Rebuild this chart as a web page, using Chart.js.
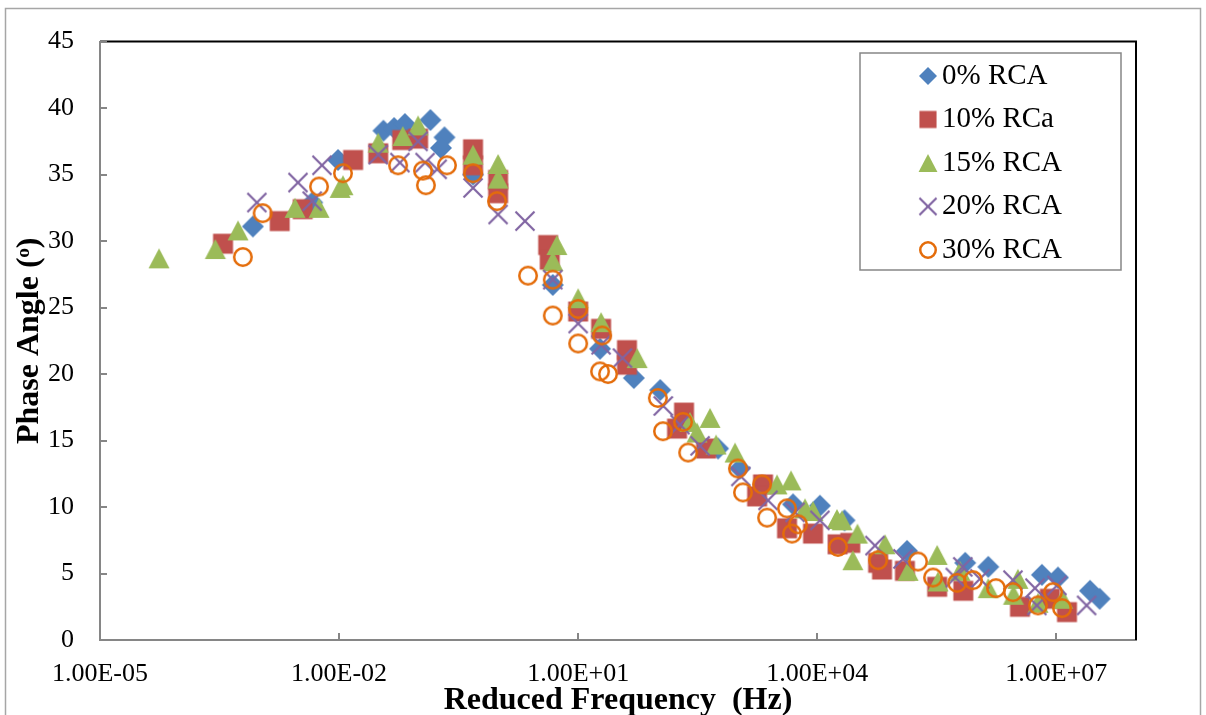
<!DOCTYPE html>
<html>
<head>
<meta charset="utf-8">
<title>Phase Angle vs Reduced Frequency</title>
<script src="https://cdn.jsdelivr.net/npm/chart.js@4/dist/chart.umd.min.js"></script>
<style>
  html, body { margin: 0; padding: 0; background: #ffffff; }
  #wrap { width: 1206px; height: 715px; }
</style>
</head>
<body>
<div id="wrap"><canvas id="c" width="1206" height="715"></canvas></div>
<script>
// Master-curve phase angles (degrees) against reduced frequency (Hz)
const labels = ['0% RCA', '10% RCa', '15% RCA', '20% RCA', '30% RCA'];

const freq0  = [8.3e-4, 4.6e-3, 9.7e-3, 3.6e-2, 4.9e-2, 6.7e-2, 1.4e-1, 2.1e-1, 1.9e-1, 4.8e-1,
                4.8, 18.8, 50, 107, 570, 1070, 4970, 1.08e4, 2.2e4, 1.34e5,
                7.2e5, 1.4e6, 6.6e6, 1.05e7, 2.65e7, 3.5e7];
const phase0 = [31.1, 32.9, 36.1, 38.3, 38.5, 38.8, 39.1, 37.8, 37.0, 35.0,
                26.7, 21.9, 19.7, 18.8, 14.4, 12.9, 10.2, 10.1, 9.0, 6.7,
                5.8, 5.5, 4.9, 4.7, 3.7, 3.1];

const freq10  = [3.5e-4, 1.8e-3, 3.5e-3, 1.5e-2, 3.1e-2, 6.2e-2, 9.8e-2, 4.8e-1, 4.8e-1, 0.99,
                 0.99, 4.2, 4.4, 10, 19.4, 41, 41, 213, 174, 403,
                 2090, 1760, 4180, 8860, 1.8e4, 2.6e4, 5.8e4, 6.5e4, 1.26e5, 3.2e5,
                 6.8e5, 3.5e6, 8.3e6, 1.36e7];
const phase10 = [29.8, 31.5, 32.4, 36.1, 36.6, 37.6, 37.7, 36.9, 35.7, 34.6,
                 33.6, 29.7, 28.6, 24.7, 23.4, 21.8, 20.7, 17.1, 15.9, 14.4,
                 11.7, 10.8, 8.4, 8.0, 7.2, 7.3, 5.8, 5.3, 5.2, 4.0,
                 3.7, 2.5, 3.1, 2.1];

const freq15  = [5.5e-5, 2.8e-4, 5.4e-4, 2.8e-3, 5.6e-3, 1.03e-2, 1.12e-2, 3.1e-2, 6.3e-2, 9.8e-2,
                 4.8e-1, 0.99, 0.99, 5.4, 4.8, 10, 19.4, 55, 253, 452,
                 310, 538, 930, 3130, 4690, 7030, 8860, 1.77e4, 2.05e4, 3.2e4,
                 2.8e4, 7.1e4, 1.38e5, 3.2e5, 3.28e5, 6.2e5, 1.4e6, 3.3e6, 2.9e6, 5.9e6,
                 1.2e7];
const phase15 = [28.7, 29.4, 30.8, 32.5, 32.5, 34.0, 34.2, 37.4, 37.9, 38.7,
                 36.5, 35.8, 34.7, 29.7, 28.5, 25.7, 23.9, 21.2, 16.4, 16.7,
                 15.6, 14.7, 14.1, 11.7, 12.0, 9.9, 9.7, 9.1, 9.0, 8.0,
                 6.0, 7.2, 5.2, 6.4, 4.4, 5.2, 3.9, 4.6, 3.4, 2.8,
                 3.1];

const freq20  = [9.3e-4, 3.05e-3, 6.1e-3, 4.6e-3, 3.1e-2, 5.8e-2, 9.8e-2, 1.2e-1, 1.7e-1, 4.8e-1,
                 0.99, 2.15, 4.8, 10, 19.4, 36, 117, 190, 339, 1100,
                 2410, 5270, 1.08e4, 5.3e4, 1.19e5, 5.4e5, 6.7e5, 1.1e6, 2.86e6, 5.4e6,
                 5.7e6, 1.02e7, 2.4e7];
const phase20 = [32.9, 34.4, 35.7, 33.0, 36.5, 35.9, 37.5, 35.9, 35.4, 34.0,
                 32.0, 31.5, 27.1, 23.8, 22.2, 21.2, 17.6, 16.2, 14.6, 12.3,
                 10.5, 9.6, 9.0, 7.1, 6.1, 4.7, 5.5, 4.6, 4.5, 3.9,
                 2.6, 4.1, 2.6];

const freq30  = [6.2e-4, 1.1e-3, 5.6e-3, 1.12e-2, 5.5e-2, 1.13e-1, 1.23e-1, 2.26e-1, 4.8e-1, 0.96,
                 2.35, 4.8, 4.8, 10, 10, 20, 18.8, 23.7, 100, 116,
                 207, 240, 1010, 1170, 2030, 2350, 4180, 5740, 4830, 1.82e4,
                 5.8e4, 1.84e5, 2.84e5, 5.7e5, 9.0e5, 1.75e6, 2.86e6, 5.9e6, 9.1e6, 1.18e7];
const phase30 = [28.8, 32.1, 34.1, 35.1, 35.7, 35.3, 34.2, 35.7, 35.1, 33.0,
                 27.4, 27.1, 24.4, 24.9, 22.3, 22.9, 20.2, 20.0, 18.2, 15.7,
                 16.4, 14.1, 12.9, 11.1, 11.7, 9.2, 9.9, 8.7, 8.0, 7.0,
                 6.0, 5.9, 4.7, 4.3, 4.5, 3.9, 3.6, 2.6, 3.6, 2.4];

const xTickValues = [1e-5, 1e-2, 1e1, 1e4, 1e7];
const yTickStep = 5;

const serif = '"Liberation Serif", "Times New Roman", serif';
const colors = ['#4F81BD', '#C0504D', '#9BBB59', '#8064A2', '#E46C0A'];
const shapes = ['diamond', 'square', 'triangle', 'cross', 'circle'];
const markerSizes = [22, 21, 20, 20, 20];

// Marker sprites used as point styles
function makeMarker(shape, color, s) {
  const c = document.createElement('canvas');
  const size = Math.ceil(s + 4);
  c.width = size; c.height = size;
  const g = c.getContext('2d');
  const m = size / 2, h = s / 2;
  g.fillStyle = color; g.strokeStyle = color;
  g.beginPath();
  if (shape === 'diamond') {
    g.moveTo(m, m - h); g.lineTo(m + h, m); g.lineTo(m, m + h); g.lineTo(m - h, m);
    g.closePath(); g.fill();
  } else if (shape === 'square') {
    const q = h * 0.95;
    g.fillRect(m - q, m - q, 2 * q, 2 * q);
  } else if (shape === 'triangle') {
    const w = h * 1.05;
    g.moveTo(m, m - h); g.lineTo(m + w, m + h); g.lineTo(m - w, m + h);
    g.closePath(); g.fill();
  } else if (shape === 'cross') {
    g.lineWidth = 2.2;
    const q = h * 0.95;
    g.moveTo(m - q, m - q); g.lineTo(m + q, m + q);
    g.moveTo(m + q, m - q); g.lineTo(m - q, m + q);
    g.stroke();
  } else {
    g.lineWidth = 2.5;
    g.arc(m, m, h - 1.25, 0, Math.PI * 2);
    g.stroke();
  }
  return c;
}

const pointImgs = shapes.map((s, i) => makeMarker(s, colors[i], markerSizes[i]));
const legendImgs = shapes.map((s, i) => makeMarker(s, colors[i], 18));

const seriesFreq = [freq0, freq10, freq15, freq20, freq30];
const seriesPhase = [phase0, phase10, phase15, phase20, phase30];

const datasets = labels.map((label, i) => ({
  label: label,
  data: seriesFreq[i].map((f, j) => ({ x: f, y: seriesPhase[i][j] })),
  pointStyle: pointImgs[i],
  pointRadius: 10,
  showLine: false,
  order: labels.length - 1 - i
}));

function sciLabel(v) {
  const e = Math.round(Math.log10(v));
  const m = v / Math.pow(10, e);
  return m.toFixed(2) + 'E' + (e < 0 ? '-' : '+') + String(Math.abs(e)).padStart(2, '0');
}

// Frame, inward tick marks and the boxed legend
const framePlugin = {
  id: 'frame',
  afterDraw(chart) {
    const ctx = chart.ctx, ca = chart.chartArea;
    const xs = chart.scales.x, ys = chart.scales.y;
    ctx.save();
    // outer chart border
    ctx.strokeStyle = '#a6a6a6'; ctx.lineWidth = 1.5;
    ctx.strokeRect(5.5, 8.5, 1195, 720);
    // plot area top and right edges
    ctx.strokeStyle = '#000000'; ctx.lineWidth = 2;
    ctx.beginPath();
    ctx.moveTo(ca.left, ca.top); ctx.lineTo(ca.right, ca.top); ctx.lineTo(ca.right, ca.bottom);
    ctx.stroke();
    // inward tick marks
    ctx.strokeStyle = '#868686'; ctx.lineWidth = 2;
    ctx.beginPath();
    xTickValues.forEach(v => {
      const px = Math.round(xs.getPixelForValue(v));
      ctx.moveTo(px, ca.bottom); ctx.lineTo(px, ca.bottom - 7);
    });
    ys.ticks.forEach(t => {
      const py = Math.round(ys.getPixelForValue(t.value));
      ctx.moveTo(ca.left, py); ctx.lineTo(ca.left + 7, py);
    });
    ctx.stroke();
    // legend
    const lx = 860, ly = 53, lw = 261, lh = 217;
    ctx.fillStyle = '#ffffff';
    ctx.fillRect(lx, ly, lw, lh);
    ctx.strokeStyle = '#868686'; ctx.lineWidth = 1.5;
    ctx.strokeRect(lx, ly, lw, lh);
    ctx.font = '29px ' + serif;
    ctx.fillStyle = '#000000';
    ctx.textBaseline = 'middle';
    ctx.textAlign = 'left';
    chart.data.datasets.forEach((ds, i) => {
      const cy = 76 + i * 43.5;
      const img = legendImgs[i];
      ctx.drawImage(img, 928 - img.width / 2, cy - img.height / 2);
      ctx.fillText(ds.label, 942, cy);
    });
    ctx.restore();
  }
};

new Chart(document.getElementById('c'), {
  type: 'scatter',
  data: { datasets: datasets },
  options: {
    responsive: false,
    devicePixelRatio: 1,
    animation: false,
    layout: { padding: { top: 38, right: 70, left: 0, bottom: 0 } },
    plugins: { legend: { display: false }, tooltip: { enabled: false } },
    scales: {
      x: {
        type: 'logarithmic',
        min: 1e-5,
        max: 1e8,
        afterBuildTicks: sc => { sc.ticks = xTickValues.map(v => ({ value: v })); },
        afterFit: sc => { sc.height = 75; },
        ticks: {
          callback: v => sciLabel(v),
          autoSkip: false, maxRotation: 0,
          padding: 19,
          color: '#000000',
          font: { family: serif, size: 26 }
        },
        grid: { display: false, drawTicks: false },
        border: { display: true, color: '#868686', width: 2 },
        title: {
          display: true,
          text: 'Reduced Frequency  (Hz)',
          color: '#000000',
          font: { family: serif, size: 32, weight: 'bold', lineHeight: 0.9 },
          padding: { top: 0, bottom: 0 }
        }
      },
      y: {
        type: 'linear',
        min: 0,
        max: 45,
        afterFit: sc => { sc.width = 100; },
        ticks: {
          stepSize: yTickStep,
          padding: 26,
          color: '#000000',
          font: { family: serif, size: 26 }
        },
        grid: { display: false, drawTicks: false },
        border: { display: true, color: '#868686', width: 2 },
        title: {
          display: true,
          text: 'Phase Angle (ᵒ)',
          color: '#000000',
          font: { family: serif, size: 32, weight: 'bold', lineHeight: 1 },
          padding: { top: 14, bottom: 0 }
        }
      }
    }
  },
  plugins: [framePlugin]
});
</script>
</body>
</html>
